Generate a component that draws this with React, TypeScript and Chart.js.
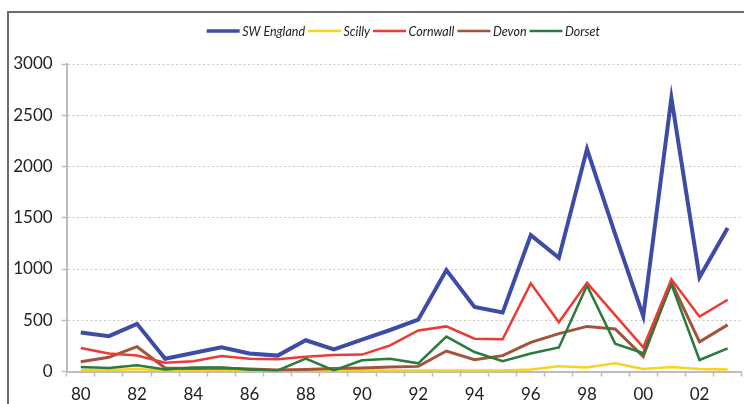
import React, { useEffect, useRef } from 'react';
import { Chart, registerables } from 'chart.js';

Chart.register(...registerables);

const years = ['80', '81', '82', '83', '84', '85', '86', '87', '88', '89', '90', '91', '92', '93', '94', '95', '96', '97', '98', '99', '00', '01', '02', '03'];
const swEngland = [380, 345, 465, 125, 180, 235, 175, 155, 305, 215, 310, 405, 505, 990, 630, 575, 1330, 1110, 2170, 1340, 540, 2670, 920, 1400];
const scilly = [15, 15, 25, 10, 10, 15, 10, 10, 10, 10, 10, 10, 10, 10, 10, 10, 20, 50, 40, 80, 25, 45, 25, 20];
const cornwall = [230, 175, 155, 85, 100, 150, 125, 120, 145, 160, 165, 255, 400, 440, 320, 315, 860, 480, 865, 550, 235, 900, 535, 700];
const devon = [95, 138, 242, 35, 30, 35, 25, 15, 20, 30, 35, 45, 50, 200, 115, 155, 285, 370, 440, 415, 145, 870, 290, 455];
const dorset = [45, 35, 60, 20, 40, 40, 20, 10, 125, 10, 110, 125, 80, 340, 190, 100, 175, 235, 840, 272, 178, 850, 112, 225];

const seriesNames = ['SW England', 'Scilly', 'Cornwall', 'Devon', 'Dorset'];
const seriesColors = ['#3e4ca8', '#f8d31e', '#ec3a34', '#a2543a', '#2a7b3c'];
const seriesWidths = [4, 2.5, 2.5, 3, 2.5];
const seriesOrder = [0, 4, 1, 3, 2];
const legendWidths = [3.5, 2.5, 2.5, 2.5, 2.5];

const FONT = 'Lato, "Open Sans", sans-serif';

const customLegend = {
  id: 'customLegend',
  afterDraw(chart: any) {
    const ctx = chart.ctx as CanvasRenderingContext2D;
    ctx.save();
    ctx.font = `italic 12.5px ${FONT}`;
    const lineW = 33;
    const gapA = 2.5;
    const gapB = 3;
    const widths = seriesNames.map((n) => lineW + gapA + ctx.measureText(n).width + gapB);
    const total = widths.reduce((a, b) => a + b, 0) - gapB;
    let x = 403.3 - total / 2;
    const y = 31;
    seriesNames.forEach((name, i) => {
      ctx.beginPath();
      ctx.strokeStyle = seriesColors[i];
      ctx.lineWidth = legendWidths[i];
      ctx.lineCap = 'butt';
      ctx.moveTo(x, y);
      ctx.lineTo(x + lineW, y);
      ctx.stroke();
      ctx.fillStyle = '#222';
      ctx.textBaseline = 'middle';
      ctx.textAlign = 'left';
      ctx.fillText(name, x + lineW + gapA, y + 0.5);
      x += widths[i];
    });
    ctx.restore();
  },
};

export default function App() {
  const canvasRef = useRef<HTMLCanvasElement | null>(null);

  useEffect(() => {
    if (!canvasRef.current) return;
    const data = [swEngland, scilly, cornwall, devon, dorset];
    const chart = new Chart(canvasRef.current, {
      type: 'line',
      data: {
        labels: years,
        datasets: seriesNames.map((name, i) => ({
          label: name,
          data: data[i],
          borderColor: seriesColors[i],
          backgroundColor: seriesColors[i],
          borderWidth: seriesWidths[i],
          pointRadius: 0,
          tension: 0,
          fill: false,
          order: seriesOrder[i],
        })),
      },
      options: {
        animation: false,
        responsive: true,
        maintainAspectRatio: false,
        layout: { padding: { left: 0, right: 2.3, top: 64, bottom: 0 } },
        plugins: {
          legend: { display: false },
          tooltip: { enabled: false },
        },
        scales: {
          x: {
            offset: true,
            grid: {
              offset: true,
              drawOnChartArea: false,
              tickLength: 5,
              tickColor: '#bdbdbd',
              tickWidth: 1.5,
              color: '#bdbdbd',
            },
            border: { display: true, color: '#bdbdbd', width: 2 },
            ticks: {
              autoSkip: false,
              maxRotation: 0,
              minRotation: 0,
              color: '#222',
              font: { family: FONT, size: 17 },
              padding: 8,
              callback: (_v: any, i: number) => (i % 2 === 0 ? years[i] : ''),
            },
            afterFit: (s: any) => {
              s.height = 32.5;
            },
          },
          y: {
            min: 0,
            max: 3000,
            ticks: {
              stepSize: 500,
              color: '#222',
              font: { family: FONT, size: 17 },
              padding: 9,
              callback: (v: any) => String(v),
            },
            grid: {
              color: '#c8c8c8',
              lineWidth: 1,
              tickLength: 5,
              tickColor: '#bdbdbd',
              tickWidth: 1.5,
              tickBorderDash: [],
            },
            border: { display: true, color: '#bdbdbd', width: 2, dash: [2, 2.5] },
            afterFit: (s: any) => {
              s.width = 66.7;
            },
          },
        },
      },
      plugins: [customLegend],
    });
    return () => chart.destroy();
  }, []);

  return (
    <div style={{ position: 'fixed', left: 0, top: 0, width: 744, height: 404, overflow: 'hidden', background: '#fff' }}>
      <div
        style={{
          position: 'absolute',
          left: 7,
          top: 11,
          width: 900,
          height: 600,
          border: '2px solid #6b6b6b',
          boxSizing: 'border-box',
        }}
      />
      <div style={{ position: 'absolute', left: 0, top: 0, width: 744, height: 404 }}>
        <canvas ref={canvasRef} />
      </div>
    </div>
  );
}
